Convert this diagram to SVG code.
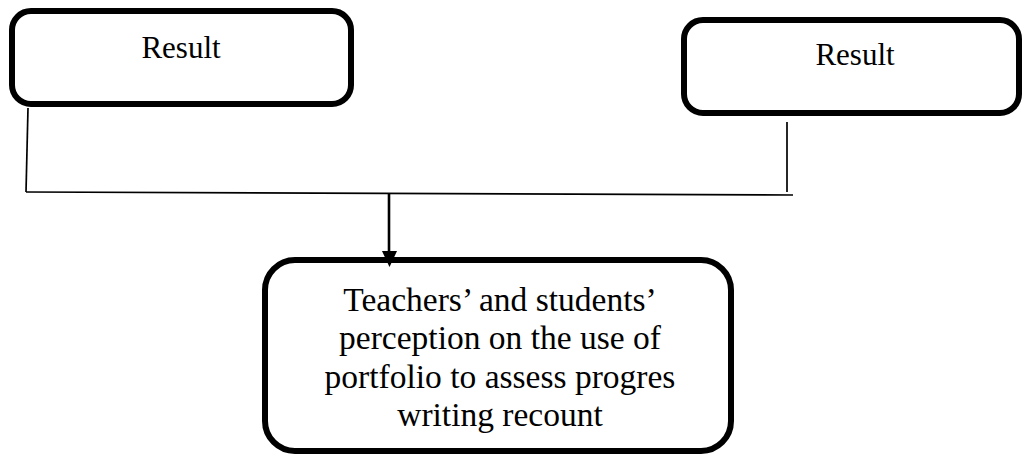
<svg xmlns="http://www.w3.org/2000/svg" width="1023" height="454" viewBox="0 0 1023 454">
<style>
.box{fill:#fff;stroke:#000;stroke-width:6}
.t{font-family:"Liberation Serif","Times New Roman",serif;font-size:31px;fill:#000;text-anchor:middle}
.b{font-size:33.5px}
.c{fill:none;stroke:#000;stroke-width:1.7}
.a{stroke-width:2.6}
</style>
<g id="result-left">
<rect class="box" x="12" y="11" width="339" height="93" rx="19"/>
<text class="t" x="181" y="58">Result</text>
</g>
<g id="result-right">
<rect class="box" x="684" y="20" width="335" height="93" rx="19"/>
<text class="t" x="855" y="65">Result</text>
</g>
<g id="perception">
<rect class="box" x="265" y="260" width="466" height="191" rx="30"/>
<text class="t b" x="500" y="311">Teachers’ and students’</text>
<text class="t b" x="500" y="349">perception on the use of</text>
<text class="t b" x="500" y="388">portfolio to assess progres</text>
<text class="t b" x="500" y="426">writing recount</text>
</g>
<g id="connectors">
<path class="c" d="M28,108 L26,192"/>
<path class="c" d="M787,122 L787,192"/>
<path class="c" d="M26,192 L793,195"/>
<path class="c a" d="M389,193 L389,252"/>
<path d="M382,251 L397,251 L389.5,267 Z" fill="#000"/>
</g>
</svg>
